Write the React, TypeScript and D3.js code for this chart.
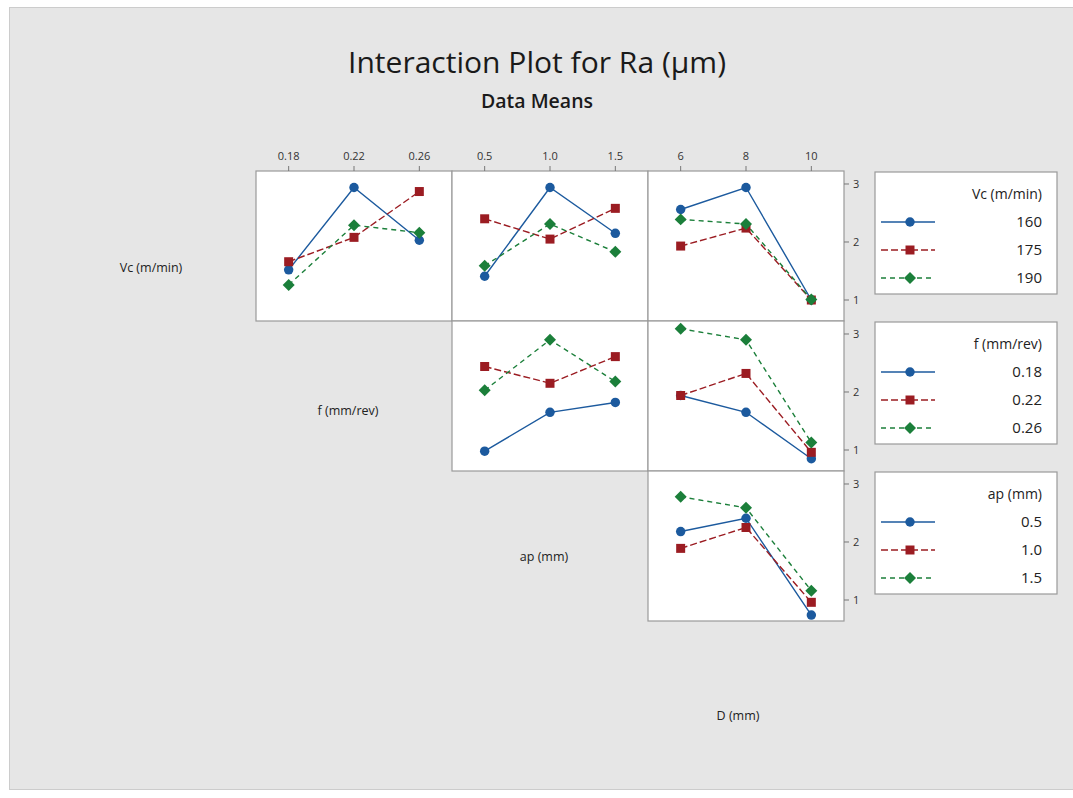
import React, { useEffect } from 'react';
import * as d3 from 'd3';

// factor levels
const vcLevels = ['160', '175', '190'];
const fLevels = ['0.18', '0.22', '0.26'];
const apLevels = ['0.5', '1.0', '1.5'];
const dLevels = ['6', '8', '10'];

// means of Ra, one row per level of the trace factor
const vcByF = [[1.52, 2.94, 2.03], [1.66, 2.08, 2.87], [1.26, 2.29, 2.16]];
const vcByAp = [[1.41, 2.94, 2.15], [2.40, 2.05, 2.58], [1.59, 2.31, 1.83]];
const vcByD = [[2.56, 2.94, 1.0], [1.93, 2.24, 1.0], [2.39, 2.31, 1.01]];
const fByAp = [[0.98, 1.65, 1.82], [2.44, 2.15, 2.61], [2.03, 2.90, 2.18]];
const fByD = [[1.94, 1.65, 0.85], [1.94, 2.32, 0.96], [3.09, 2.90, 1.13]];
const apByD = [[2.18, 2.41, 0.74], [1.89, 2.25, 0.96], [2.78, 2.59, 1.16]];

const yTicks = [1, 2, 3];

const colors = ['#1c5a9e', '#9b1c22', '#1b7f3a'];
const dashes = [null, '7,3', '5,4'];
const symbols = [d3.symbolCircle, d3.symbolSquare, d3.symbolSquare];
const symSizes = [70, 81, 72];
const symRotate = [0, 0, 45];

const font = "'Open Sans', 'Noto Sans', sans-serif";

const colLeft = [256, 452, 648];
const rowTop = [171, 321, 471];
const cellW = 196;
const cellH = 150;

const panels = [
  { row: 0, col: 0, levels: fLevels, data: vcByF },
  { row: 0, col: 1, levels: apLevels, data: vcByAp },
  { row: 0, col: 2, levels: dLevels, data: vcByD },
  { row: 1, col: 1, levels: apLevels, data: fByAp },
  { row: 1, col: 2, levels: dLevels, data: fByD },
  { row: 2, col: 2, levels: dLevels, data: apByD },
];

const legends = [
  { title: 'Vc (m/min)', levels: vcLevels },
  { title: 'f (mm/rev)', levels: fLevels },
  { title: 'ap (mm)', levels: apLevels },
];

const rowLabels = [
  { text: 'Vc (m/min)', x: 151, y: 268 },
  { text: 'f (mm/rev)', x: 348, y: 411 },
  { text: 'ap (mm)', x: 544, y: 557 },
  { text: 'D (mm)', x: 738, y: 716 },
];

const y = d3.scaleLinear().domain([0.638, 3.224]).range([cellH, 0]);

function Marker({ i, x, yy }: { i: number; x: number; yy: number }) {
  const path = d3.symbol().type(symbols[i]).size(symSizes[i])() as string;
  return (
    <path
      d={path}
      fill={colors[i]}
      transform={`translate(${x},${yy}) rotate(${symRotate[i]})`}
    />
  );
}

function Panel({ p }: { p: (typeof panels)[number] }) {
  const x = d3.scalePoint<string>().domain(p.levels).range([0, cellW]).padding(0.5);
  const line = d3
    .line<number>()
    .x((_, j) => x(p.levels[j]) as number)
    .y((v) => y(v));
  return (
    <g transform={`translate(${colLeft[p.col]},${rowTop[p.row]})`}>
      <rect width={cellW} height={cellH} fill="#fff" stroke="#9a9a9a" strokeWidth={1.2} />
      {p.data.map((vals, i) => (
        <path
          key={'l' + i}
          d={line(vals) as string}
          fill="none"
          stroke={colors[i]}
          strokeWidth={1.4}
          strokeDasharray={dashes[i] || undefined}
        />
      ))}
      {p.data.map((vals, i) =>
        vals.map((v, j) => <Marker key={'m' + i + j} i={i} x={x(p.levels[j]) as number} yy={y(v)} />)
      )}
      {p.row === 0 &&
        p.levels.map((l) => (
          <g key={'t' + l} transform={`translate(${x(l)},0)`}>
            <line y1={-5} y2={0} stroke="#777" />
            <text y={-11} textAnchor="middle" fontSize={11} fill="#333" fontFamily={font}>
              {l}
            </text>
          </g>
        ))}
      {p.col === 2 &&
        yTicks.map((t) => (
          <g key={'y' + t} transform={`translate(${cellW},${y(t)})`}>
            <line x1={0} x2={5} stroke="#777" />
            <text x={9} dy="0.35em" fontSize={11} fill="#333" fontFamily={font}>
              {t}
            </text>
          </g>
        ))}
    </g>
  );
}

function Legend({ lg, idx }: { lg: (typeof legends)[number]; idx: number }) {
  const top = rowTop[idx] + 1;
  return (
    <g transform={`translate(875,${top})`}>
      <rect width={182} height={122} fill="#fff" stroke="#9a9a9a" strokeWidth={1.2} />
      <text x={167} y={22} dy="0.35em" textAnchor="end" fontSize={14} fill="#222" fontFamily={font} fontWeight={500}>
        {lg.title}
      </text>
      {lg.levels.map((l, i) => (
        <g key={l} transform={`translate(0,${50 + i * 28})`}>
          <line x1={6} x2={60} stroke={colors[i]} strokeWidth={1.4} strokeDasharray={dashes[i] || undefined} />
          <Marker i={i} x={35} yy={0} />
          <text x={167} dy="0.35em" textAnchor="end" fontSize={15} fill="#222" fontFamily={font}>
            {l}
          </text>
        </g>
      ))}
    </g>
  );
}

export default function App() {
  useEffect(() => {
    document.body.style.margin = '0';
  }, []);
  return (
    <svg width={1073} height={798} style={{ display: 'block' }}>
      <rect width={1073} height={798} fill="#fff" />
      <rect x={9.5} y={7.5} width={1070} height={782} fill="#e6e6e6" stroke="#cccccc" />
      <text x={537} y={62} dy="0.35em" textAnchor="middle" fontSize={30} fill="#1a1a1a" fontFamily={font}
        fontWeight={500} textLength={378} lengthAdjust="spacingAndGlyphs">
        Interaction Plot for Ra (µm)
      </text>
      <text x={537} y={101} dy="0.35em" textAnchor="middle" fontSize={19} fill="#1a1a1a" fontFamily={font}
        fontWeight={600} textLength={112} lengthAdjust="spacingAndGlyphs">
        Data Means
      </text>
      {rowLabels.map((r) => (
        <text key={r.text} x={r.x} y={r.y} dy="0.35em" textAnchor="middle" fontSize={12.5} fill="#222" fontFamily={font}>
          {r.text}
        </text>
      ))}
      {panels.map((p, k) => (
        <Panel key={k} p={p} />
      ))}
      {legends.map((lg, i) => (
        <Legend key={i} lg={lg} idx={i} />
      ))}
    </svg>
  );
}
